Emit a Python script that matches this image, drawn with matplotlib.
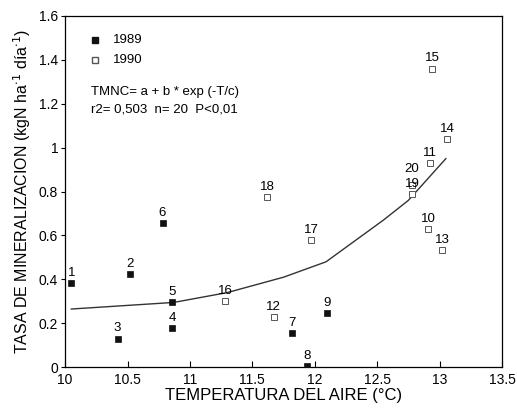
import matplotlib
matplotlib.use("Agg")
import matplotlib.pyplot as plt
import numpy as np

plt.rcParams['font.family'] = ['Liberation Sans', 'DejaVu Sans']

# puntos 1989 (cuadrado negro)
ids_89 = ["1", "2", "3", "4", "5", "6", "7", "8", "9"]
t_89 = [10.05, 10.52, 10.42, 10.86, 10.86, 10.78, 11.82, 11.94, 12.10]
n_89 = [0.385, 0.425, 0.13, 0.18, 0.295, 0.655, 0.155, 0.005, 0.245]

# puntos 1990 (cuadrado abierto)
ids_90 = ["10", "11", "12", "13", "14", "15", "16", "17", "18", "19", "20"]
t_90 = [12.91, 12.92, 11.67, 13.02, 13.06, 12.94, 11.28, 11.97, 11.62, 12.78, 12.78]
n_90 = [0.63, 0.93, 0.23, 0.535, 1.04, 1.36, 0.30, 0.58, 0.775, 0.79, 0.83]

# curva ajustada
curve_t = [10.05, 10.87, 11.3, 11.75, 12.09, 12.55, 12.75, 13.05]
curve_n = [0.265, 0.295, 0.34, 0.41, 0.48, 0.67, 0.76, 0.95]

fig = plt.figure(figsize=(5.17, 4.08), dpi=100)
ax = fig.add_axes([0.126, 0.1, 0.845, 0.861])

ax.plot(curve_t, curve_n, color='#333333', lw=1.0, zorder=2)
ax.plot(t_89, n_89, ls='none', marker='s', markersize=5, color='#111111',
        markeredgewidth=0.5, zorder=3)
ax.plot(t_90, n_90, ls='none', marker='s', markersize=4.5, markerfacecolor='white',
        markeredgecolor='#555555', markeredgewidth=0.7, zorder=3)

for lab, x, y in zip(ids_89 + ids_90, t_89 + t_90, n_89 + n_90):
    dy = 7 if lab == "20" else 3
    ax.annotate(lab, (x, y), xytext=(0, dy), textcoords='offset points',
                ha='center', va='bottom', fontsize=9.5)

# leyenda
ax.plot([10.24], [1.49], marker='s', markersize=4.5, color='#111111', ls='none')
ax.text(10.38, 1.49, "1989", fontsize=9.5, va='center')
ax.plot([10.24], [1.40], marker='s', markersize=4, markerfacecolor='white',
        markeredgecolor='#555555', ls='none')
ax.text(10.38, 1.40, "1990", fontsize=9.5, va='center')

ax.text(10.21, 1.255, "TMNC= a + b * exp (-T/c)", fontsize=9.5, va='center')
ax.text(10.21, 1.175, "r2= 0,503  n= 20  P<0,01", fontsize=9.5, va='center')

ax.set_xlim(10, 13.5)
ax.set_ylim(0, 1.6)
ax.set_xticks([10, 10.5, 11, 11.5, 12, 12.5, 13, 13.5])
ax.set_xticklabels(["10", "10.5", "11", "11.5", "12", "12.5", "13", "13.5"])
ax.set_yticks([0, 0.2, 0.4, 0.6, 0.8, 1.0, 1.2, 1.4, 1.6])
ax.set_yticklabels(["0", "0.2", "0.4", "0.6", "0.8", "1", "1.2", "1.4", "1.6"])
ax.tick_params(axis='x', direction='in', length=4, labelsize=10, pad=4)
ax.tick_params(axis='y', direction='out', length=3, labelsize=10, pad=2)
for s in ax.spines.values():
    s.set_linewidth(0.9)

ax.set_xlabel("TEMPERATURA DEL AIRE (°C)", fontsize=12, labelpad=1)
ax.set_ylabel("TASA DE MINERALIZACION (kgN ha$^{\\cdot1}$ día$^{\\cdot1}$)",
              fontsize=11.5, labelpad=4)

fig.savefig("out.png", dpi=100)
